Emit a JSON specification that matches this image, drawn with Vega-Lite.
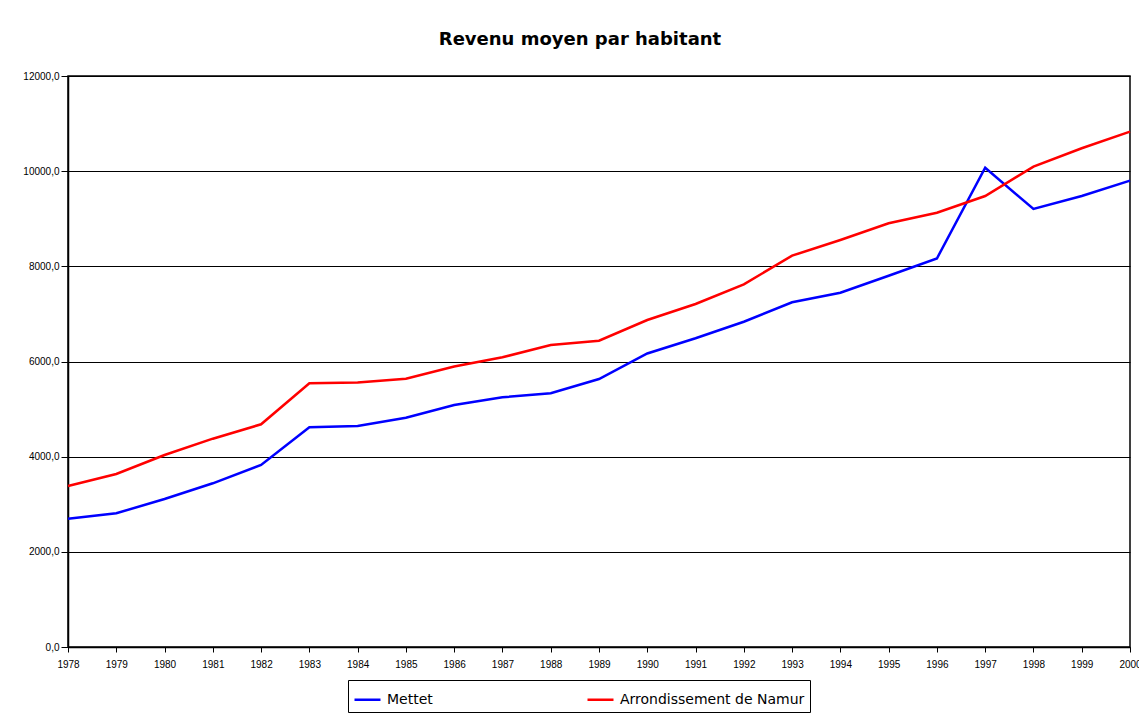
{
  "$schema": "https://vega.github.io/schema/vega-lite/v6.json",
  "width": 1062,
  "height": 571,
  "padding": {"left": 68, "top": 76, "right": 9, "bottom": 70},
  "autosize": {"type": "none"},
  "background": "white",
  "title": {
    "text": "Revenu moyen par habitant",
    "font": "DejaVu Sans",
    "fontSize": 18,
    "fontWeight": "bold",
    "color": "black",
    "anchor": "middle",
    "frame": "group",
    "baseline": "alphabetic",
    "offset": 8,
    "dx": -19
  },
  "data": {
    "values": [
      {"year": 1978, "series": "Mettet", "value": 2696},
      {"year": 1979, "series": "Mettet", "value": 2810},
      {"year": 1980, "series": "Mettet", "value": 3110},
      {"year": 1981, "series": "Mettet", "value": 3440},
      {"year": 1982, "series": "Mettet", "value": 3825},
      {"year": 1983, "series": "Mettet", "value": 4617},
      {"year": 1984, "series": "Mettet", "value": 4645},
      {"year": 1985, "series": "Mettet", "value": 4819},
      {"year": 1986, "series": "Mettet", "value": 5086},
      {"year": 1987, "series": "Mettet", "value": 5248},
      {"year": 1988, "series": "Mettet", "value": 5332},
      {"year": 1989, "series": "Mettet", "value": 5632},
      {"year": 1990, "series": "Mettet", "value": 6168},
      {"year": 1991, "series": "Mettet", "value": 6488},
      {"year": 1992, "series": "Mettet", "value": 6836},
      {"year": 1993, "series": "Mettet", "value": 7244},
      {"year": 1994, "series": "Mettet", "value": 7446},
      {"year": 1995, "series": "Mettet", "value": 7803},
      {"year": 1996, "series": "Mettet", "value": 8165},
      {"year": 1997, "series": "Mettet", "value": 10073},
      {"year": 1998, "series": "Mettet", "value": 9205},
      {"year": 1999, "series": "Mettet", "value": 9478},
      {"year": 2000, "series": "Mettet", "value": 9800},
      {"year": 1978, "series": "Arrondissement de Namur", "value": 3384},
      {"year": 1979, "series": "Arrondissement de Namur", "value": 3636},
      {"year": 1980, "series": "Arrondissement de Namur", "value": 4035},
      {"year": 1981, "series": "Arrondissement de Namur", "value": 4378},
      {"year": 1982, "series": "Arrondissement de Namur", "value": 4680},
      {"year": 1983, "series": "Arrondissement de Namur", "value": 5542},
      {"year": 1984, "series": "Arrondissement de Namur", "value": 5559},
      {"year": 1985, "series": "Arrondissement de Namur", "value": 5639},
      {"year": 1986, "series": "Arrondissement de Namur", "value": 5895},
      {"year": 1987, "series": "Arrondissement de Namur", "value": 6088},
      {"year": 1988, "series": "Arrondissement de Namur", "value": 6347},
      {"year": 1989, "series": "Arrondissement de Namur", "value": 6437},
      {"year": 1990, "series": "Arrondissement de Namur", "value": 6872},
      {"year": 1991, "series": "Arrondissement de Namur", "value": 7208},
      {"year": 1992, "series": "Arrondissement de Namur", "value": 7622},
      {"year": 1993, "series": "Arrondissement de Namur", "value": 8224},
      {"year": 1994, "series": "Arrondissement de Namur", "value": 8553},
      {"year": 1995, "series": "Arrondissement de Namur", "value": 8904},
      {"year": 1996, "series": "Arrondissement de Namur", "value": 9127},
      {"year": 1997, "series": "Arrondissement de Namur", "value": 9478},
      {"year": 1998, "series": "Arrondissement de Namur", "value": 10094},
      {"year": 1999, "series": "Arrondissement de Namur", "value": 10481},
      {"year": 2000, "series": "Arrondissement de Namur", "value": 10830}
    ]
  },
  "mark": {"type": "line", "strokeWidth": 2.5, "clip": false},
  "encoding": {
    "x": {
      "field": "year",
      "type": "quantitative",
      "scale": {"domain": [1978, 2000], "nice": false, "zero": false},
      "axis": {
        "title": null,
        "values": [1978,1979,1980,1981,1982,1983,1984,1985,1986,1987,1988,1989,1990,1991,1992,1993,1994,1995,1996,1997,1998,1999,2000],
        "format": "d",
        "grid": false,
        "labelFont": "Liberation Sans",
        "labelFontSize": 10,
        "labelColor": "black",
        "labelFlush": false,
        "labelOverlap": false,
        "labelPadding": 7,
        "tickSize": 5,
        "tickColor": "black",
        "domainColor": "black",
        "domainWidth": 1.5
      }
    },
    "y": {
      "field": "value",
      "type": "quantitative",
      "scale": {"domain": [0, 12000], "nice": false},
      "axis": {
        "title": null,
        "values": [0, 2000, 4000, 6000, 8000, 10000, 12000],
        "labelExpr": "replace(format(datum.value, '.1f'), '.', ',')",
        "grid": true,
        "gridColor": "black",
        "gridWidth": 1,
        "gridOpacity": 1,
        "labelFont": "Liberation Sans",
        "labelFontSize": 10,
        "labelColor": "black",
        "labelPadding": 2,
        "tickSize": 7,
        "tickColor": "black",
        "domainColor": "black",
        "domainWidth": 1.5
      }
    },
    "color": {
      "field": "series",
      "type": "nominal",
      "scale": {"domain": ["Mettet", "Arrondissement de Namur"], "range": ["#0000ff", "#ff0000"]},
      "legend": {
        "title": null,
        "orient": "none",
        "legendX": 280,
        "legendY": 604,
        "direction": "horizontal",
        "columns": 2,
        "columnPadding": 149,
        "symbolType": "stroke",
        "symbolSize": 676,
        "symbolStrokeWidth": 2.5,
        "labelFont": "DejaVu Sans",
        "labelFontSize": 14,
        "labelLimit": 400,
        "labelColor": "black",
        "labelOffset": 5,
        "padding": 5,
        "strokeColor": "black",
        "fillColor": "white"
      }
    }
  },
  "config": {
    "view": {"stroke": "black", "strokeWidth": 1.5}
  }
}
